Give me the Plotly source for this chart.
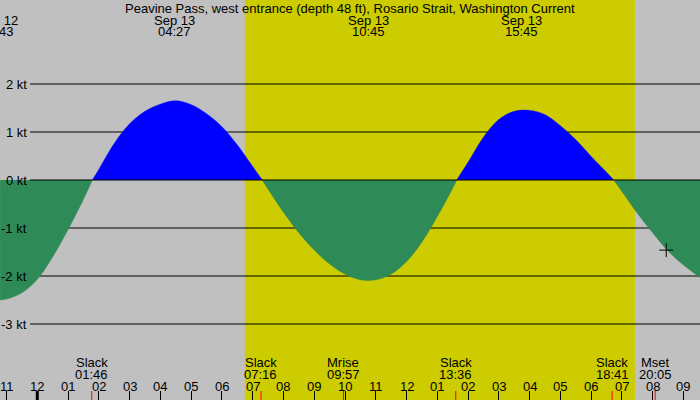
import plotly.graph_objects as go

# hours relative to midnight Sep 13
x_lo, x_hi = -1.212, 21.537
y_lo, y_hi = -4.583, 3.75

tick_hours = list(range(-1, 22))
tick_text = ["11", "12", "01", "02", "03", "04", "05", "06", "07", "08", "09", "10",
             "11", "12", "01", "02", "03", "04", "05", "06", "07", "08", "09"]

kt_levels = [2, 1, 0, -1, -2, -3]

sunrise, sunset = 6.745, 19.42

# current segments (hours, knots)
ebb_a_t = [-1.21, -1.0, -0.5, 0.0, 0.5, 1.0, 1.5, 1.79]
ebb_a_v = [-2.5, -2.48, -2.35, -2.07, -1.60, -1.03, -0.40, 0.0]

flood_a_t = [1.79, 2.0, 2.5, 3.0, 3.5, 4.0, 4.5, 5.0, 5.5, 6.0, 6.5, 7.0, 7.31]
flood_a_v = [0.0, 0.22, 0.76, 1.17, 1.43, 1.58, 1.65, 1.57, 1.38, 1.11, 0.73, 0.28, 0.0]

ebb_b_t = [7.31, 7.5, 8.0, 8.5, 9.0, 9.5, 10.0, 10.5, 11.0, 11.5, 12.0, 12.5, 13.0, 13.5, 13.63]
ebb_b_v = [0.0, -0.19, -0.67, -1.10, -1.46, -1.75, -1.96, -2.08, -2.08, -1.96, -1.70,
           -1.29, -0.76, -0.17, 0.0]

flood_b_t = [13.63, 14.0, 14.5, 15.0, 15.5, 16.0, 16.5, 17.0, 17.5, 18.0, 18.5, 18.73]
flood_b_v = [0.0, 0.37, 0.89, 1.26, 1.43, 1.45, 1.36, 1.13, 0.84, 0.49, 0.16, 0.0]

ebb_c_t = [18.73, 19.0, 19.5, 20.0, 20.5, 21.0, 21.54]
ebb_c_v = [0.0, -0.24, -0.69, -1.10, -1.48, -1.77, -2.03]

# max flood / ebb labels at top
peak_times = [-1.28, 4.45, 10.75, 15.75]
peak_dates = ["Sep 12", "Sep 13", "Sep 13", "Sep 13"]
peak_clock = ["22:43", "04:27", "10:45", "15:45"]

# events along the bottom
event_times = [1.77, 7.27, 9.95, 13.6, 18.68, 20.08]
event_names = ["Slack", "Slack", "Mrise", "Slack", "Slack", "Mset"]
event_clock = ["01:46", "07:16", "09:57", "13:36", "18:41", "20:05"]

now_t, now_v = 20.44, -1.46

FLOOD = "#0000FF"
EBB = "#2E8B57"
NIGHT = "#C0C0C0"
DAY = "#CCCC00"
FONT = dict(family="Liberation Sans, Arial, sans-serif", size=13, color="black")


def px_x(t):
    return (t - x_lo) / (x_hi - x_lo)


fig = go.Figure()

segments = [(ebb_a_t, ebb_a_v, EBB), (flood_a_t, flood_a_v, FLOOD),
            (ebb_b_t, ebb_b_v, EBB), (flood_b_t, flood_b_v, FLOOD),
            (ebb_c_t, ebb_c_v, EBB)]
for t, v, c in segments:
    fig.add_trace(go.Scatter(x=t, y=v, mode="lines", fill="tozeroy",
                             fillcolor=c, line=dict(color=c, width=0.5, shape="spline"),
                             hoverinfo="skip", showlegend=False))

fig.add_trace(go.Scatter(x=[now_t], y=[now_v], mode="markers",
                         marker=dict(symbol="cross-thin", size=10,
                                     line=dict(color="black", width=1)),
                         hoverinfo="skip", showlegend=False))

shapes = [dict(type="rect", xref="x", yref="paper", x0=sunrise, x1=sunset, y0=0, y1=1,
               fillcolor=DAY, line=dict(width=0), layer="below")]
for lv in kt_levels:
    shapes.append(dict(type="line", xref="paper", yref="y", x0=30 / 700, x1=1, y0=lv, y1=lv,
                       line=dict(color="black", width=1),
                       layer="above" if lv == 0 else "below"))
# midnight tick
shapes.append(dict(type="line", xref="x", yref="paper", x0=0, x1=0, y0=0, y1=9 / 400,
                   line=dict(color="black", width=3)))
for t in event_times:
    shapes.append(dict(type="line", xref="x", yref="paper", x0=t, x1=t, y0=0, y1=9 / 400,
                       line=dict(color="red", width=1)))

ann = [dict(xref="paper", yref="paper", x=0.5, y=1 - 8 / 400, text=
            "Peavine Pass, west entrance (depth 48 ft), Rosario Strait, Washington Current",
            showarrow=False, font=FONT, xanchor="center", yanchor="middle")]


def label(t, y_px, s):
    ann.append(dict(xref="paper", yref="paper", x=px_x(t), y=1 - y_px / 400, text=s,
                    showarrow=False, font=FONT, xanchor="center", yanchor="middle"))


for t, d, c in zip(peak_times, peak_dates, peak_clock):
    label(t, 20, d)
    label(t, 32, c)
for t, n, c in zip(event_times, event_names, event_clock):
    label(t, 362, n)
    label(t, 374, c)
for h, s in zip(tick_hours, tick_text):
    label(h, 386, s)
for lv in kt_levels:
    ann.append(dict(xref="paper", yref="y", x=28.5 / 700, y=lv, text=f"{lv} kt",
                    showarrow=False, font=FONT, xanchor="right", yanchor="middle"))

fig.update_layout(
    width=700, height=400,
    margin=dict(l=0, r=0, t=0, b=0),
    paper_bgcolor=NIGHT, plot_bgcolor=NIGHT,
    showlegend=False,
    shapes=shapes, annotations=ann,
    xaxis=dict(range=[x_lo, x_hi], showgrid=False, zeroline=False, showticklabels=False,
               tickvals=tick_hours, ticks="inside", ticklen=9, tickwidth=1, tickcolor="black"),
    yaxis=dict(range=[y_lo, y_hi], showgrid=False, zeroline=False, showticklabels=False),
)

fig.write_html("out.html", config={"displayModeBar": False},
               post_script="document.body.style.margin='0';")
